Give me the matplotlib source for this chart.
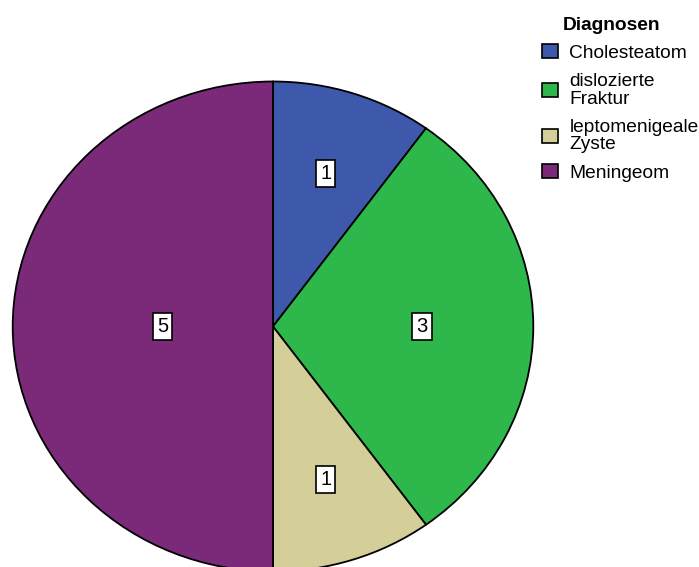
import numpy as np
import matplotlib
matplotlib.use("Agg")
import matplotlib.pyplot as plt

plt.rcParams['font.family'] = ['Liberation Sans', 'DejaVu Sans']

# Diagnosen und Fallzahlen
diagnosen = ["Cholesteatom", "dislozierte\nFraktur", "leptomenigeale\nZyste", "Meningeom"]
anzahl = [1, 3, 1, 5]
farben = ["#3e58ac", "#2eb84b", "#d4cf98", "#7b2a7a"]

fig = plt.figure(figsize=(6.99, 5.67), dpi=100)
# elliptische Torte: Achse ist breiter als hoch
ax = fig.add_axes([12.7 / 699, (567 - 571.5) / 567, 520.6 / 699, 490 / 567])

wedges, _ = ax.pie(anzahl, colors=farben, startangle=90, counterclock=False,
                   wedgeprops=dict(edgecolor="black", linewidth=1.3))
ax.set_aspect("auto")
ax.set_xlim(-1, 1)
ax.set_ylim(-1, 1)

# Beschriftung im Schwerpunkt jedes Sektors
total = sum(anzahl)
winkel = 90.0
for n in anzahl:
    breite = 360.0 * n / total
    mitte = np.radians(winkel - breite / 2)
    halb = np.radians(breite / 2)
    r = 2 * np.sin(halb) / (3 * halb)
    ax.text(r * np.cos(mitte), r * np.sin(mitte), str(n), ha="center", va="center",
            fontsize=14.5,
            bbox=dict(boxstyle="square,pad=0.2", facecolor="white", edgecolor="black", linewidth=1.2))
    winkel -= breite

# Legende, Titel separat gesetzt
fig.text(611 / 699, 1 - 25 / 567, "Diagnosen", ha="center", va="center",
         fontsize=13.8, fontweight="bold")
leg = fig.legend(wedges, diagnosen, loc="upper left", bbox_to_anchor=(529 / 699, 1 - 31 / 567),
                 frameon=False, fontsize=13.8,
                 handlelength=0.8, handleheight=0.7, handletextpad=0.6,
                 labelspacing=0.58, borderpad=0.2)
for t in leg.get_texts():
    t.set_linespacing(1.05)
for h in leg.legend_handles:
    h.set_linewidth(1.2)

fig.savefig("out.png", dpi=100)
